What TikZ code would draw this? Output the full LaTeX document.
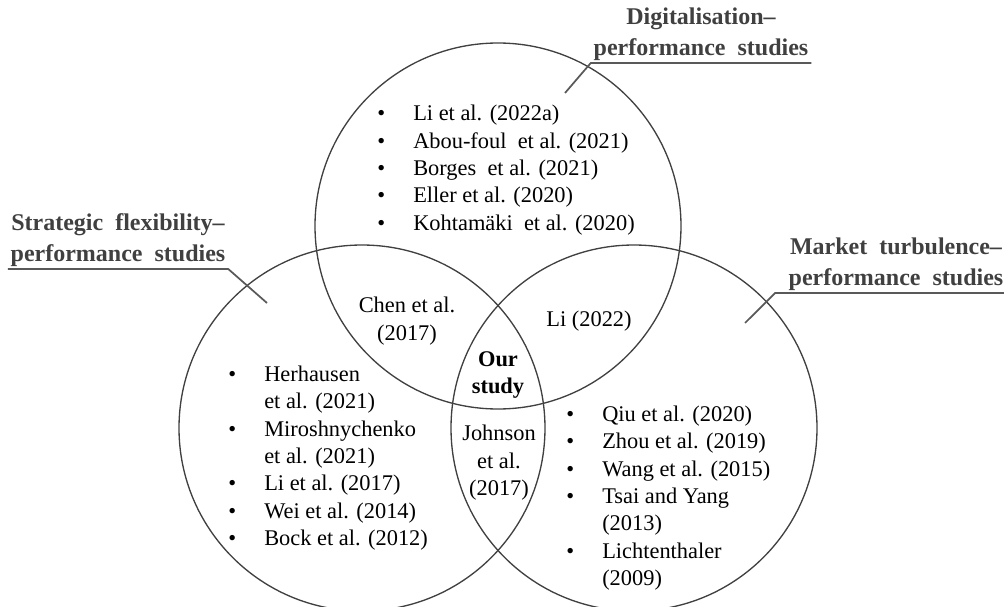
\documentclass[tikz,border=0pt]{standalone}
\usepackage{fontspec}
\setmainfont{Liberation Serif}
\usepackage{array}
\usetikzlibrary{positioning}
\definecolor{VennLine}{RGB}{64,64,64}
\definecolor{LabGray}{RGB}{64,64,64}
\definecolor{LeadGray}{RGB}{89,89,89}
\newcommand{\citefont}{\fontsize{16.8}{20.6}\selectfont}
\newcommand{\bl}{\textbullet}
\tikzset{
  venn/.style={circle,draw=VennLine,line width=1pt,minimum size=274.5pt,inner sep=0pt},
  grouplab/.style={align=center,font=\fontsize{18}{23.5}\selectfont\bfseries,
                   text=LabGray,inner xsep=2pt,inner ysep=1.5pt,anchor=south},
  leader/.style={draw=LeadGray,line width=1.3pt},
  cite/.style={align=center,font=\citefont,inner sep=0pt},
  citelist/.style={anchor=west,inner sep=0pt,font=\citefont},
}

\begin{document}
\begin{tikzpicture}[x=0.75pt,y=-0.75pt]
  \useasboundingbox (0,0) rectangle (1004,607);

  \node[venn] (cdig) at (498,226) {};
  \node[venn] (cflex) at (362,428) {};
  \node[venn] (cmkt) at (634,428) {};

  \node[grouplab] (dlab) at (701,63) {Digitalisation--\\performance\ \ studies};
  \node[grouplab] (slab) at (118,269) {Strategic\ \ flexibility--\\performance\ \ studies};
  \node[grouplab] (mlab) at (896,293) {Market\ \ turbulence--\\performance\ \ studies};

  \coordinate (dpt) at (565,93);
  \coordinate (spt) at (267,303);
  \coordinate (mpt) at (745,323);
  \coordinate[left=8pt of mlab.south west] (mknee);

  \draw[leader] (dlab.south east) -- (dlab.south west) -- (dpt);
  \draw[leader] (slab.south west) -- (slab.south east) -- (spt);
  \draw[leader] (mlab.south east) -- (mknee) -- (mpt);

  \node[citelist] (ldig) at (377,170) {%
    \begin{tabular}{@{}p{27pt}@{}l@{}}
      \bl & Li et al. (2022a)\\
      \bl & Abou-foul\ \ et al. (2021)\\
      \bl & Borges\ \ et al. (2021)\\
      \bl & Eller et al. (2020)\\
      \bl & Kohtamäki\ \ et al. (2020)
    \end{tabular}};

  \node[citelist] (lflex) at (228,458) {%
    \begin{tabular}{@{}p{27pt}@{}l@{}}
      \bl & Herhausen\\
          & et al. (2021)\\
      \bl & Miroshnychenko\\
          & et al. (2021)\\
      \bl & Li et al. (2017)\\
      \bl & Wei et al. (2014)\\
      \bl & Bock et al. (2012)
    \end{tabular}};

  \node[citelist] (lmkt) at (566,498) {%
    \begin{tabular}{@{}p{27pt}@{}l@{}}
      \bl & Qiu et al. (2020)\\
      \bl & Zhou et al. (2019)\\
      \bl & Wang et al. (2015)\\
      \bl & Tsai and Yang\\
          & (2013)\\
      \bl & Lichtenthaler\\
          & (2009)
    \end{tabular}};

  \node[cite] (chen) at (407,321) {Chen et al.\\(2017)};
  \node[cite] (li) at (589,321) {Li (2022)};
  \node[cite,font=\citefont\bfseries] (ours) at (498,375) {Our\\study};
  \node[cite] (john) at (499,463) {Johnson\\et al.\\(2017)};
\end{tikzpicture}
\end{document}
